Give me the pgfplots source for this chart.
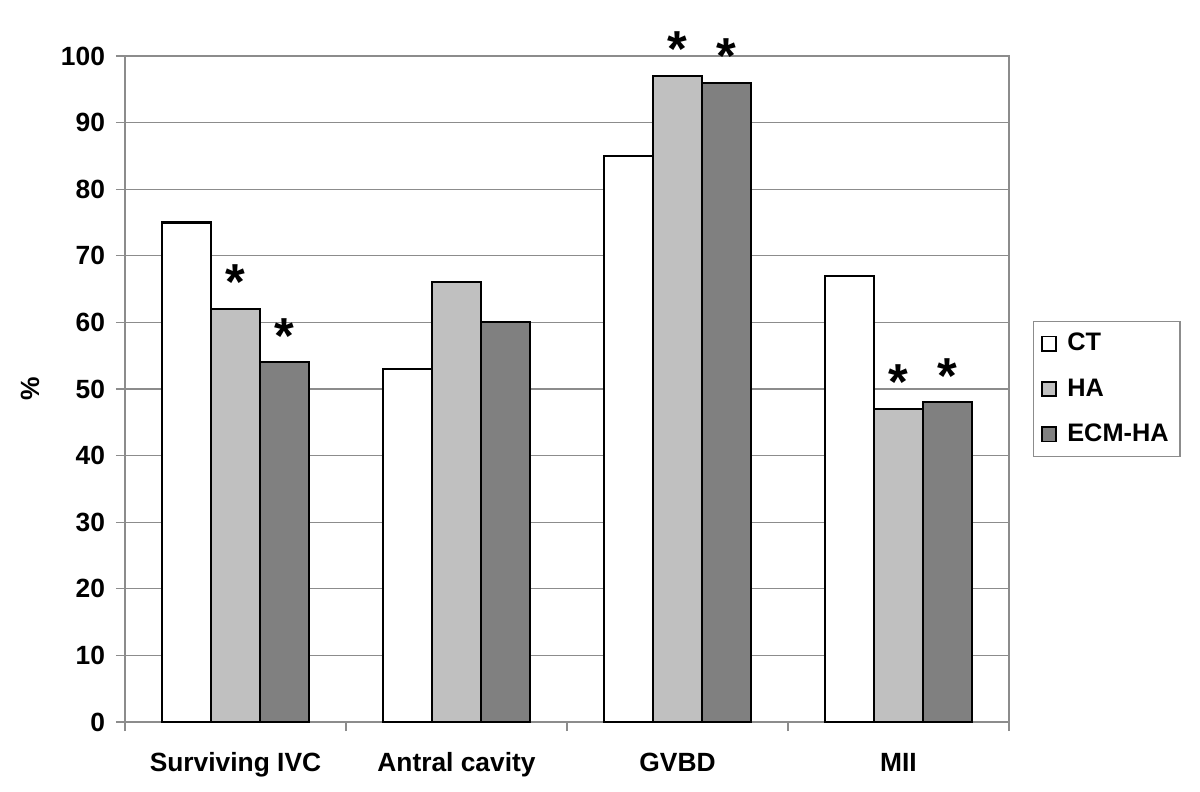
\documentclass[border=0pt]{standalone}
\usepackage{pgfplots}
\pgfplotsset{compat=1.18}
\usepackage{fontspec}
\setmainfont{Liberation Sans}
\usetikzlibrary{calc}
\definecolor{hagray}{HTML}{C0C0C0}
\definecolor{ecmgray}{HTML}{808080}
\definecolor{gridgray}{HTML}{8C8C8C}

\begin{document}
\begin{tikzpicture}
\begin{axis}[
  width=14.733cm, height=11.1cm, scale only axis,
  xmin=-0.5, xmax=3.5, ymin=0, ymax=100,
  ybar=0pt, bar width=0.222,
  % ticks at the category boundaries, names as extra ticks without marks
  xtick={-0.5,0.5,1.5,2.5,3.5},
  xticklabels={},
  extra x ticks={0,1,2,3},
  extra x tick labels={Surviving IVC, Antral cavity, GVBD, MII},
  extra x tick style={grid=none, major tick length=0pt,
    xticklabel style={anchor=base, yshift=-0.83cm}},
  xtick pos=bottom, ytick pos=left,
  ytick={0,10,...,100},
  tick align=outside,
  major tick length=0.15cm,
  x tick style={draw=gridgray, line width=0.6pt},
  y tick style={draw=gridgray, line width=0.6pt},
  ymajorgrids,
  grid style={gridgray, line width=0.5pt},
  axis line style={gridgray, line width=1pt},
  ticklabel style={font=\fontsize{12.5}{14}\selectfont\bfseries},
  /pgf/number format/assume math mode=true,
  yticklabel style={xshift=-0.06cm},
  ylabel={\%},
  ylabel style={at={(axis description cs:-0.1075,0.5)}, anchor=center, font=\fontsize{12.5}{14}\selectfont\bfseries},
  legend style={at={(1,0.5)}, anchor=west, xshift=0.4cm, draw=gridgray, line width=0.6pt,
    font=\fontsize{12}{14}\selectfont\bfseries, row sep=0.27cm, inner xsep=0.12cm, inner ysep=0.12cm,
    cells={anchor=west}},
  legend image code/.code={\draw[#1, line width=0.8pt] (0cm,-0.12cm) rectangle (0.24cm,0.12cm); \path (0.34cm,0);},
  nodes near coords style={font=\fontsize{24}{24}\selectfont\bfseries, anchor=south, yshift=0.02cm},
]
\addplot[fill=white, draw=black, line width=1pt] coordinates {(0,75) (1,53) (2,85) (3,67)};
\addlegendentry{CT}
\addplot[fill=hagray, draw=black, line width=1pt,
  point meta=explicit symbolic, nodes near coords] coordinates {
  (0,62) [*] (1,66) [] (2,97) [*] (3,47) [*]};
\addlegendentry{HA}
\addplot[fill=ecmgray, draw=black, line width=1pt,
  point meta=explicit symbolic, nodes near coords] coordinates {
  (0,54) [*] (1,60) [] (2,96) [*] (3,48) [*]};
\addlegendentry{ECM-HA}
\end{axis}
\pgfresetboundingbox
\path ($(current axis.south west)+(-2.083cm,-1.15cm)$) rectangle ($(current axis.north east)+(3.183cm,0.933cm)$);
\end{tikzpicture}
\end{document}
